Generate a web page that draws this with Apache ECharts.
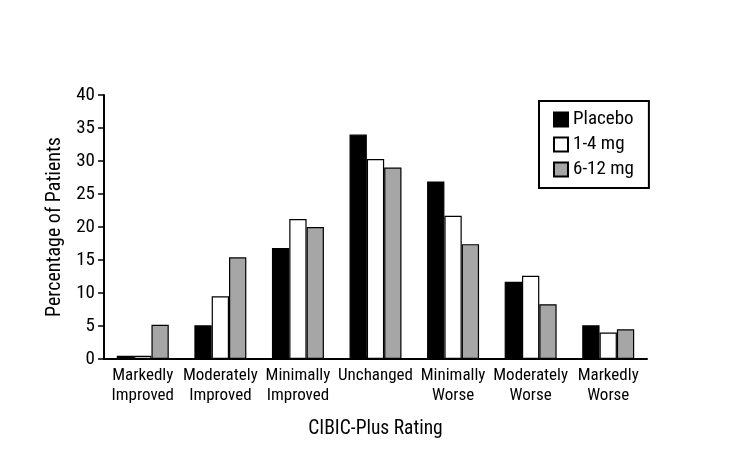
<!DOCTYPE html>
<html><head><meta charset="utf-8">
<script src="https://cdn.jsdelivr.net/npm/echarts@6/dist/echarts.min.js"></script>
<style>html,body{margin:0;padding:0;background:#fff}#c{width:739px;height:450px}</style>
</head><body><div id="c"></div>
<script>
const categories = ['Markedly\nImproved','Moderately\nImproved','Minimally\nImproved','Unchanged','Minimally\nWorse','Moderately\nWorse','Markedly\nWorse'];
const placebo = [0.5, 5.1, 16.8, 34.0, 26.9, 11.7, 5.1];
const low = [0.5, 9.5, 21.2, 30.3, 21.7, 12.6, 4.0];
const high = [5.2, 15.4, 20.0, 29.0, 17.4, 8.3, 4.5];
const seriesNames = ['Placebo','1-4 mg','6-12 mg'];
const yTicks = [0,5,10,15,20,25,30,35,40];

const FONT = "'Roboto Condensed','DejaVu Sans Condensed',sans-serif";
const chart = echarts.init(document.getElementById('c'));
const mk = (name, data, color) => ({
  name, type:'bar', data, xAxisIndex:0, barGap:'0%', barCategoryGap:'33%',
  itemStyle:{color, borderColor:'#000', borderWidth:1.2}
});
chart.setOption({
  animation:false,
  textStyle:{fontFamily:FONT},
  grid:{left:104, top:95, width:543, height:264},
  legend:{
    orient:'vertical', left:539, top:101,
    padding:[9,15,9,14], itemGap:6, itemWidth:14, itemHeight:14,
    borderColor:'#000', borderWidth:2,
    icon:'rect',
    textStyle:{fontFamily:FONT, fontSize:19, color:'#000', lineHeight:19},
    data:seriesNames
  },
  xAxis:[{
    type:'category', data:categories,
    axisLine:{lineStyle:{color:'#000', width:2}},
    axisTick:{length:8, lineStyle:{color:'#000', width:1.5}},
    axisLabel:{fontFamily:FONT, fontSize:17, color:'#000', lineHeight:20, margin:7, interval:0},
    name:'CIBIC-Plus Rating', nameLocation:'middle', nameGap:60,
    nameTextStyle:{fontFamily:FONT, fontSize:19.5, color:'#000'}
  },{
    type:'category', data:categories, position:'bottom',
    axisLine:{show:false},
    axisTick:{inside:true, length:5, lineStyle:{color:'#000', width:1.5}},
    axisLabel:{show:false}
  }],
  yAxis:{
    type:'value', min:yTicks[0], max:yTicks[yTicks.length-1], interval:5,
    splitLine:{show:false},
    axisLine:{show:true, lineStyle:{color:'#000', width:2}},
    axisTick:{show:true, length:6, lineStyle:{color:'#000', width:1.5}},
    axisLabel:{fontFamily:FONT, fontSize:19, color:'#000', margin:9},
    name:'Percentage of Patients', nameLocation:'middle', nameGap:36,
    nameTextStyle:{fontFamily:FONT, fontSize:20, color:'#000'}
  },
  series:[mk(seriesNames[0], placebo, '#000'), mk(seriesNames[1], low, '#fff'), mk(seriesNames[2], high, '#a6a6a6')]
});
</script></body></html>
